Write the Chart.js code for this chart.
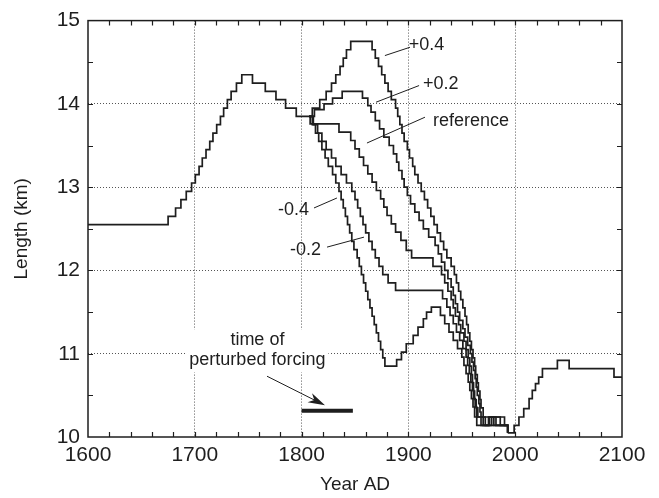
<!DOCTYPE html>
<html>
<head>
<meta charset="utf-8">
<title>Glacier length, perturbed forcing</title>
<script src="https://cdn.jsdelivr.net/npm/chart.js"></script>
<style>
  html, body { margin: 0; padding: 0; background: #fff; }
  canvas { display: block; }
</style>
</head>
<body>
<canvas id="chart" width="659" height="498"></canvas>
<script>
// Glacier length (km) vs year, step curves

const yearTicks = [1600, 1700, 1800, 1900, 2000, 2100];
const lengthTicks = [10, 11, 12, 13, 14, 15];

// common history up to the split
const commonYears = [1600, 1675, 1682, 1687, 1692, 1697, 1700.5, 1704, 1707, 1710.5, 1714, 1717, 1720.5, 1724, 1727, 1730.5, 1734, 1739, 1744, 1754, 1766, 1776, 1785, 1795, 1807];
const commonLength = [12.55, 12.65, 12.75, 12.85, 12.95, 13.05, 13.15, 13.25, 13.35, 13.45, 13.55, 13.65, 13.75, 13.85, 13.95, 14.05, 14.15, 14.25, 14.35, 14.25, 14.15, 14.05, 13.95, 13.85, 13.85];

// +0.4
const plus04Years = [1807, 1810, 1817, 1823, 1828, 1832, 1836, 1839, 1842, 1846, 1866, 1869, 1872, 1875, 1878, 1881, 1884, 1888, 1890, 1892, 1894, 1896, 1899, 1901, 1904, 1906, 1909, 1912, 1915, 1918, 1921, 1924, 1927, 1930, 1933, 1936, 1940, 1943, 1945, 1947, 1949, 1951, 1953, 1954.5, 1956, 1957.5, 1959, 1960.5, 1962, 1963, 1964.5, 1965.5, 1967, 1968, 1970, 1990, 1993];
const plus04Length = [13.85, 13.95, 14.05, 14.15, 14.25, 14.35, 14.45, 14.55, 14.65, 14.75, 14.65, 14.55, 14.45, 14.35, 14.25, 14.15, 14.05, 13.95, 13.85, 13.75, 13.65, 13.55, 13.45, 13.35, 13.25, 13.15, 13.05, 12.95, 12.85, 12.75, 12.65, 12.55, 12.45, 12.35, 12.25, 12.15, 12.05, 11.95, 11.85, 11.75, 11.65, 11.55, 11.45, 11.35, 11.25, 11.15, 11.05, 10.95, 10.85, 10.75, 10.65, 10.55, 10.45, 10.35, 10.24, 10.14, 10.05];

// +0.2
const plus02Years = [1807, 1812, 1821, 1829, 1838, 1857, 1862, 1865, 1869, 1873, 1877, 1882, 1886, 1889, 1891, 1894, 1896, 1899, 1902, 1906, 1910, 1914, 1919, 1925, 1928, 1931, 1934, 1937, 1940, 1942, 1944, 1946, 1948, 1951, 1953, 1955.5, 1958, 1959.5, 1961, 1962.5, 1963.5, 1964.5, 1966, 1967, 1968, 1972, 1978, 1986, 1993];
const plus02Length = [13.85, 13.93, 14.0, 14.07, 14.15, 14.07, 13.98, 13.9, 13.8, 13.7, 13.6, 13.5, 13.4, 13.3, 13.2, 13.1, 13.0, 12.9, 12.8, 12.7, 12.6, 12.5, 12.4, 12.3, 12.2, 12.1, 12.0, 11.9, 11.8, 11.7, 11.6, 11.5, 11.4, 11.3, 11.2, 11.1, 11.0, 10.9, 10.8, 10.7, 10.6, 10.5, 10.4, 10.3, 10.24, 10.14, 10.24, 10.14, 10.05];

// reference
const refYears = [1807, 1808, 1835, 1846, 1850, 1854, 1858, 1862, 1866, 1870, 1874, 1877, 1880, 1884, 1888, 1893, 1898, 1903, 1923, 1931, 1934, 1937, 1940, 1942, 1944, 1947, 1949, 1952, 1954, 1956, 1957.5, 1959, 1960, 1961, 1962, 1963.5, 1965, 1970, 1976, 1982, 1993];
const refLength = [13.85, 13.76, 13.66, 13.56, 13.46, 13.36, 13.26, 13.16, 13.06, 12.96, 12.86, 12.76, 12.66, 12.56, 12.46, 12.36, 12.24, 12.15, 12.05, 11.95, 11.85, 11.75, 11.65, 11.55, 11.45, 11.35, 11.25, 11.15, 11.05, 10.95, 10.85, 10.75, 10.65, 10.55, 10.45, 10.35, 10.24, 10.14, 10.24, 10.14, 10.05];

// -0.2
const minus02Years = [1807, 1811, 1815, 1819, 1823, 1828, 1832, 1837, 1842, 1847, 1850, 1852.5, 1855, 1857.5, 1860, 1863, 1866, 1869, 1872.5, 1876, 1881, 1888, 1932, 1936, 1939, 1942, 1945, 1948, 1951, 1954, 1955.5, 1957, 1958.5, 1960, 1961, 1962.5, 1964, 1968, 1975, 1980, 1993];
const minus02Length = [13.85, 13.75, 13.65, 13.55, 13.45, 13.35, 13.25, 13.15, 13.05, 12.95, 12.85, 12.75, 12.65, 12.55, 12.45, 12.35, 12.25, 12.15, 12.05, 11.95, 11.85, 11.76, 11.66, 11.56, 11.46, 11.36, 11.26, 11.16, 11.06, 10.96, 10.86, 10.76, 10.66, 10.56, 10.46, 10.36, 10.24, 10.14, 10.24, 10.14, 10.05];

// -0.4
const minus04Years = [1807, 1810, 1813, 1816, 1819, 1822, 1825, 1829, 1832, 1835, 1837, 1839, 1841, 1843, 1845, 1847, 1849, 1852, 1854, 1856, 1858, 1860, 1862, 1864, 1866, 1868, 1870, 1872, 1874, 1876, 1878, 1889, 1893.5, 1898, 1904.5, 1909, 1914, 1917, 1921.5, 1930, 1934, 1938, 1942, 1946, 1950, 1952, 1954, 1956, 1957.5, 1959, 1960.5, 1962, 1964, 1993];
const minus04Length = [13.85, 13.75, 13.65, 13.55, 13.45, 13.35, 13.25, 13.15, 13.05, 12.95, 12.85, 12.75, 12.65, 12.55, 12.45, 12.35, 12.25, 12.15, 12.05, 11.95, 11.85, 11.75, 11.65, 11.55, 11.45, 11.35, 11.25, 11.15, 11.05, 10.95, 10.85, 10.93, 11.02, 11.12, 11.22, 11.32, 11.42, 11.5, 11.56, 11.46, 11.36, 11.26, 11.16, 11.06, 10.96, 10.86, 10.76, 10.66, 10.56, 10.46, 10.36, 10.24, 10.14, 10.05];

// common future after the curves meet again
const futureYears = [1993, 1999, 2003.5, 2008, 2013, 2016, 2019, 2022, 2025.5, 2039.5, 2050.5, 2092.5, 2100];
const futureLength = [10.05, 10.14, 10.24, 10.34, 10.46, 10.56, 10.64, 10.72, 10.82, 10.92, 10.82, 10.72, 10.72];

const FONT = "'Liberation Sans', Arial, Helvetica, sans-serif";
const INK = "#1e1e1e";

function toPoints(years, lengths) {
  return years.map((yr, i) => ({ x: yr, y: lengths[i] }));
}

const series = [
  [commonYears, commonLength],
  [plus04Years, plus04Length],
  [plus02Years, plus02Length],
  [refYears, refLength],
  [minus02Years, minus02Length],
  [minus04Years, minus04Length],
  [futureYears, futureLength],
];

// each value holds until the next year listed, then steps
const datasets = series.map(([yrs, len]) => ({
  data: toPoints(yrs, len),
  borderColor: INK,
  borderWidth: 1.7,
  stepped: "before",
  pointRadius: 0,
  fill: false,
}));

// hide grid lines that would sit on the frame
function gridColor(ctx) {
  const v = ctx.tick ? ctx.tick.value : null;
  if (v === yearTicks[0] || v === yearTicks[yearTicks.length - 1]) return "rgba(0,0,0,0)";
  if (v === lengthTicks[0] || v === lengthTicks[lengthTicks.length - 1]) return "rgba(0,0,0,0)";
  return "#555";
}

// curve labels with their leader lines, in data units
const curveLabels = [
  { text: "+0.4", at: [1900.3, 14.71], from: [1878, 14.58], to: [1901.5, 14.68] },
  { text: "+0.2", at: [1913.7, 14.24], from: [1869.7, 14.02], to: [1910, 14.22] },
  { text: "reference", at: [1923, 13.8], from: [1861.2, 13.53], to: [1915.5, 13.84] },
  { text: "-0.4", at: [1777.9, 12.73], from: [1811.6, 12.75], to: [1833.1, 12.87] },
  { text: "-0.2", at: [1789.1, 12.25], from: [1823.8, 12.28], to: [1858.4, 12.4] },
];

const annotations = {
  id: "annotations",
  afterDatasetsDraw(chart) {
    const { ctx, scales } = chart;
    const px = (v) => scales.x.getPixelForValue(v);
    const py = (v) => scales.y.getPixelForValue(v);
    ctx.save();
    ctx.font = "18px " + FONT;
    ctx.fillStyle = INK;
    ctx.strokeStyle = INK;
    ctx.textBaseline = "middle";

    // labels and leader lines
    ctx.lineWidth = 1;
    curveLabels.forEach((l) => {
      ctx.textAlign = "left";
      ctx.fillText(l.text, px(l.at[0]), py(l.at[1]));
      ctx.beginPath();
      ctx.moveTo(px(l.from[0]), py(l.from[1]));
      ctx.lineTo(px(l.to[0]), py(l.to[1]));
      ctx.stroke();
    });

    // "time of perturbed forcing" note on a white patch
    const cx = px(1758.6);
    const y1 = py(11.16), y2 = py(10.92);
    const w = Math.max(ctx.measureText("time of").width, ctx.measureText("perturbed forcing").width);
    ctx.fillStyle = "#fff";
    ctx.fillRect(cx - w / 2 - 3, y1 - 11, w + 6, y2 - y1 + 23);
    ctx.fillStyle = INK;
    ctx.textAlign = "center";
    ctx.fillText("time of", cx, y1);
    ctx.fillText("perturbed forcing", cx, y2);

    // arrow
    const ax0 = px(1767.6), ay0 = py(10.73), ax1 = px(1821.9), ay1 = py(10.38);
    const ang = Math.atan2(ay1 - ay0, ax1 - ax0);
    const c = Math.cos(ang), s = Math.sin(ang);
    ctx.beginPath();
    ctx.moveTo(ax0, ay0);
    ctx.lineTo(ax1 - 10 * c, ay1 - 10 * s);
    ctx.stroke();
    ctx.beginPath();
    ctx.moveTo(ax1, ay1);
    ctx.lineTo(ax1 - 17 * c + 5 * s, ay1 - 17 * s - 5 * c);
    ctx.lineTo(ax1 - 12 * c, ay1 - 12 * s);
    ctx.lineTo(ax1 - 17 * c - 5 * s, ay1 - 17 * s + 5 * c);
    ctx.closePath();
    ctx.fill();

    // forcing period bar
    ctx.lineWidth = 4;
    ctx.beginPath();
    ctx.moveTo(px(1800), py(10.315));
    ctx.lineTo(px(1848), py(10.315));
    ctx.stroke();
    ctx.restore();
  },
};

// solid frame with inward minor ticks on all four sides
const frame = {
  id: "frame",
  afterDraw(chart) {
    const { ctx, chartArea: a, scales } = chart;
    ctx.save();
    ctx.strokeStyle = INK;
    ctx.lineWidth = 1.5;
    ctx.strokeRect(a.left, a.top, a.right - a.left, a.bottom - a.top);
    ctx.lineWidth = 1.2;
    ctx.beginPath();
    for (let yr = 1620; yr < 2100; yr += 20) {
      const x = Math.round(scales.x.getPixelForValue(yr)) + 0.5;
      ctx.moveTo(x, a.bottom); ctx.lineTo(x, a.bottom - 5);
      ctx.moveTo(x, a.top); ctx.lineTo(x, a.top + 5);
    }
    for (let km = 10.5; km < 15; km += 0.5) {
      const y = Math.round(scales.y.getPixelForValue(km)) + 0.5;
      ctx.moveTo(a.left, y); ctx.lineTo(a.left + 5, y);
      ctx.moveTo(a.right, y); ctx.lineTo(a.right - 5, y);
    }
    ctx.stroke();
    ctx.restore();
  },
};

new Chart(document.getElementById("chart"), {
  type: "line",
  data: { datasets },
  options: {
    responsive: false,
    animation: false,
    events: [],
    layout: { padding: { top: 20, right: 37, left: 0, bottom: 0 } },
    plugins: { legend: { display: false }, tooltip: { enabled: false } },
    scales: {
      x: {
        type: "linear",
        min: yearTicks[0],
        max: yearTicks[yearTicks.length - 1],
        afterFit: (s) => { s.height = 61; },
        afterBuildTicks: (s) => { s.ticks = yearTicks.map((v) => ({ value: v })); },
        ticks: { font: { family: FONT, size: 21 }, color: INK, padding: 6, maxRotation: 0, callback: (v) => String(v) },
        grid: { color: gridColor, lineWidth: 1, drawTicks: false },
        border: { display: false, dash: [1, 2] },
        title: { display: true, text: "Year AD", font: { family: FONT, size: 19 }, color: INK, padding: { top: 0, bottom: 2 } },
      },
      y: {
        type: "linear",
        min: lengthTicks[0],
        max: lengthTicks[lengthTicks.length - 1],
        afterFit: (s) => { s.width = 88; },
        afterBuildTicks: (s) => { s.ticks = lengthTicks.map((v) => ({ value: v })); },
        ticks: { font: { family: FONT, size: 21 }, color: INK, padding: 8, callback: (v) => String(v) },
        grid: { color: gridColor, lineWidth: 1, drawTicks: false },
        border: { display: false, dash: [1, 2] },
        title: { display: true, text: "Length (km)", font: { family: FONT, size: 19 }, color: INK, padding: { top: 10, bottom: 0 } },
      },
    },
  },
  plugins: [annotations, frame],
});
</script>
</body>
</html>
